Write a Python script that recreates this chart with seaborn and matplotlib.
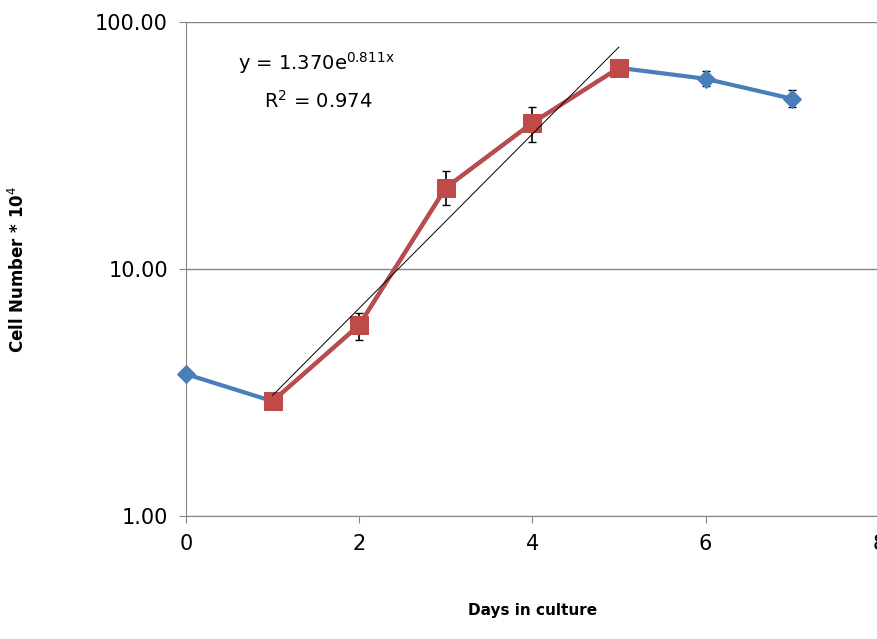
import numpy as np
import pandas as pd
import seaborn as sns
import matplotlib.pyplot as plt
from matplotlib.ticker import FixedLocator, FixedFormatter, NullLocator

days = [0, 1, 2, 3, 4, 5, 6, 7]
cells = [3.76, 2.92, 5.93, 21.3, 39.0, 65.1, 58.8, 48.8]
err_lo = [0, 0, 0.75, 3.1, 6.5, 1.5, 3.8, 3.8]
err_hi = [0, 0, 0.7, 3.5, 6.3, 1.5, 4.2, 4.2]
fit_a, fit_b = 1.370, 0.811
fit_days = [1, 5]

df = pd.DataFrame({'day': days, 'cells': cells})
exp_df = df[(df['day'] >= 1) & (df['day'] <= 5)]

sns.set_style('white')
plt.rcParams['text.color'] = 'black'
plt.rcParams['axes.labelcolor'] = 'black'
plt.rcParams['xtick.color'] = 'black'
plt.rcParams['ytick.color'] = 'black'
fig = plt.figure(figsize=(8.77, 6.39), dpi=100)
ax = fig.add_axes([0.212, 0.192, 0.79, 0.774])

ax.errorbar(days, cells, yerr=[err_lo, err_hi], fmt='none', ecolor='black',
            elinewidth=1.2, capsize=3, zorder=2)
sns.lineplot(x='day', y='cells', data=df, ax=ax, color='#4a7ebb', lw=3,
             marker='D', markersize=9, markeredgecolor='#4a7ebb', zorder=3, clip_on=False)
sns.lineplot(x='day', y='cells', data=exp_df, ax=ax, color='#be4b48', lw=3,
             marker='s', markersize=13, markeredgecolor='#be4b48', zorder=4)
fx = np.array(fit_days, dtype=float)
fx = np.linspace(fx[0], fx[1], 50)
ax.plot(fx, fit_a * np.exp(fit_b * fx), color='black', lw=0.7, zorder=5)

ax.set_yscale('log')
ax.set_ylim(1, 100)
ax.set_xlim(0, 8)
ax.yaxis.set_major_locator(FixedLocator([1, 10, 100]))
ax.yaxis.set_major_formatter(FixedFormatter(['1.00', '10.00', '100.00']))
ax.yaxis.set_minor_locator(NullLocator())
ax.set_xticks([0, 2, 4, 6, 8])
ax.grid(axis='y', color='#868686', lw=1)
for s in ['top', 'right']:
    ax.spines[s].set_visible(False)
for s in ['left', 'bottom']:
    ax.spines[s].set_color('#868686')
ax.tick_params(axis='both', labelsize=15, length=5, direction='out', color='#868686',
               left=True, bottom=True, pad=8)
ax.set_xlabel('Days in culture', fontsize=11, fontweight='bold', labelpad=35)
ax.set_ylabel('Cell Number * 10$^4$', fontsize=12, fontweight='bold', labelpad=48)
ax.text(0.6, 68, 'y = 1.370e$^{0.811\\mathrm{x}}$', fontsize=14, va='center')
ax.text(0.9, 48, 'R$^2$ = 0.974', fontsize=14, va='center')

fig.savefig('out.png', dpi=100)
